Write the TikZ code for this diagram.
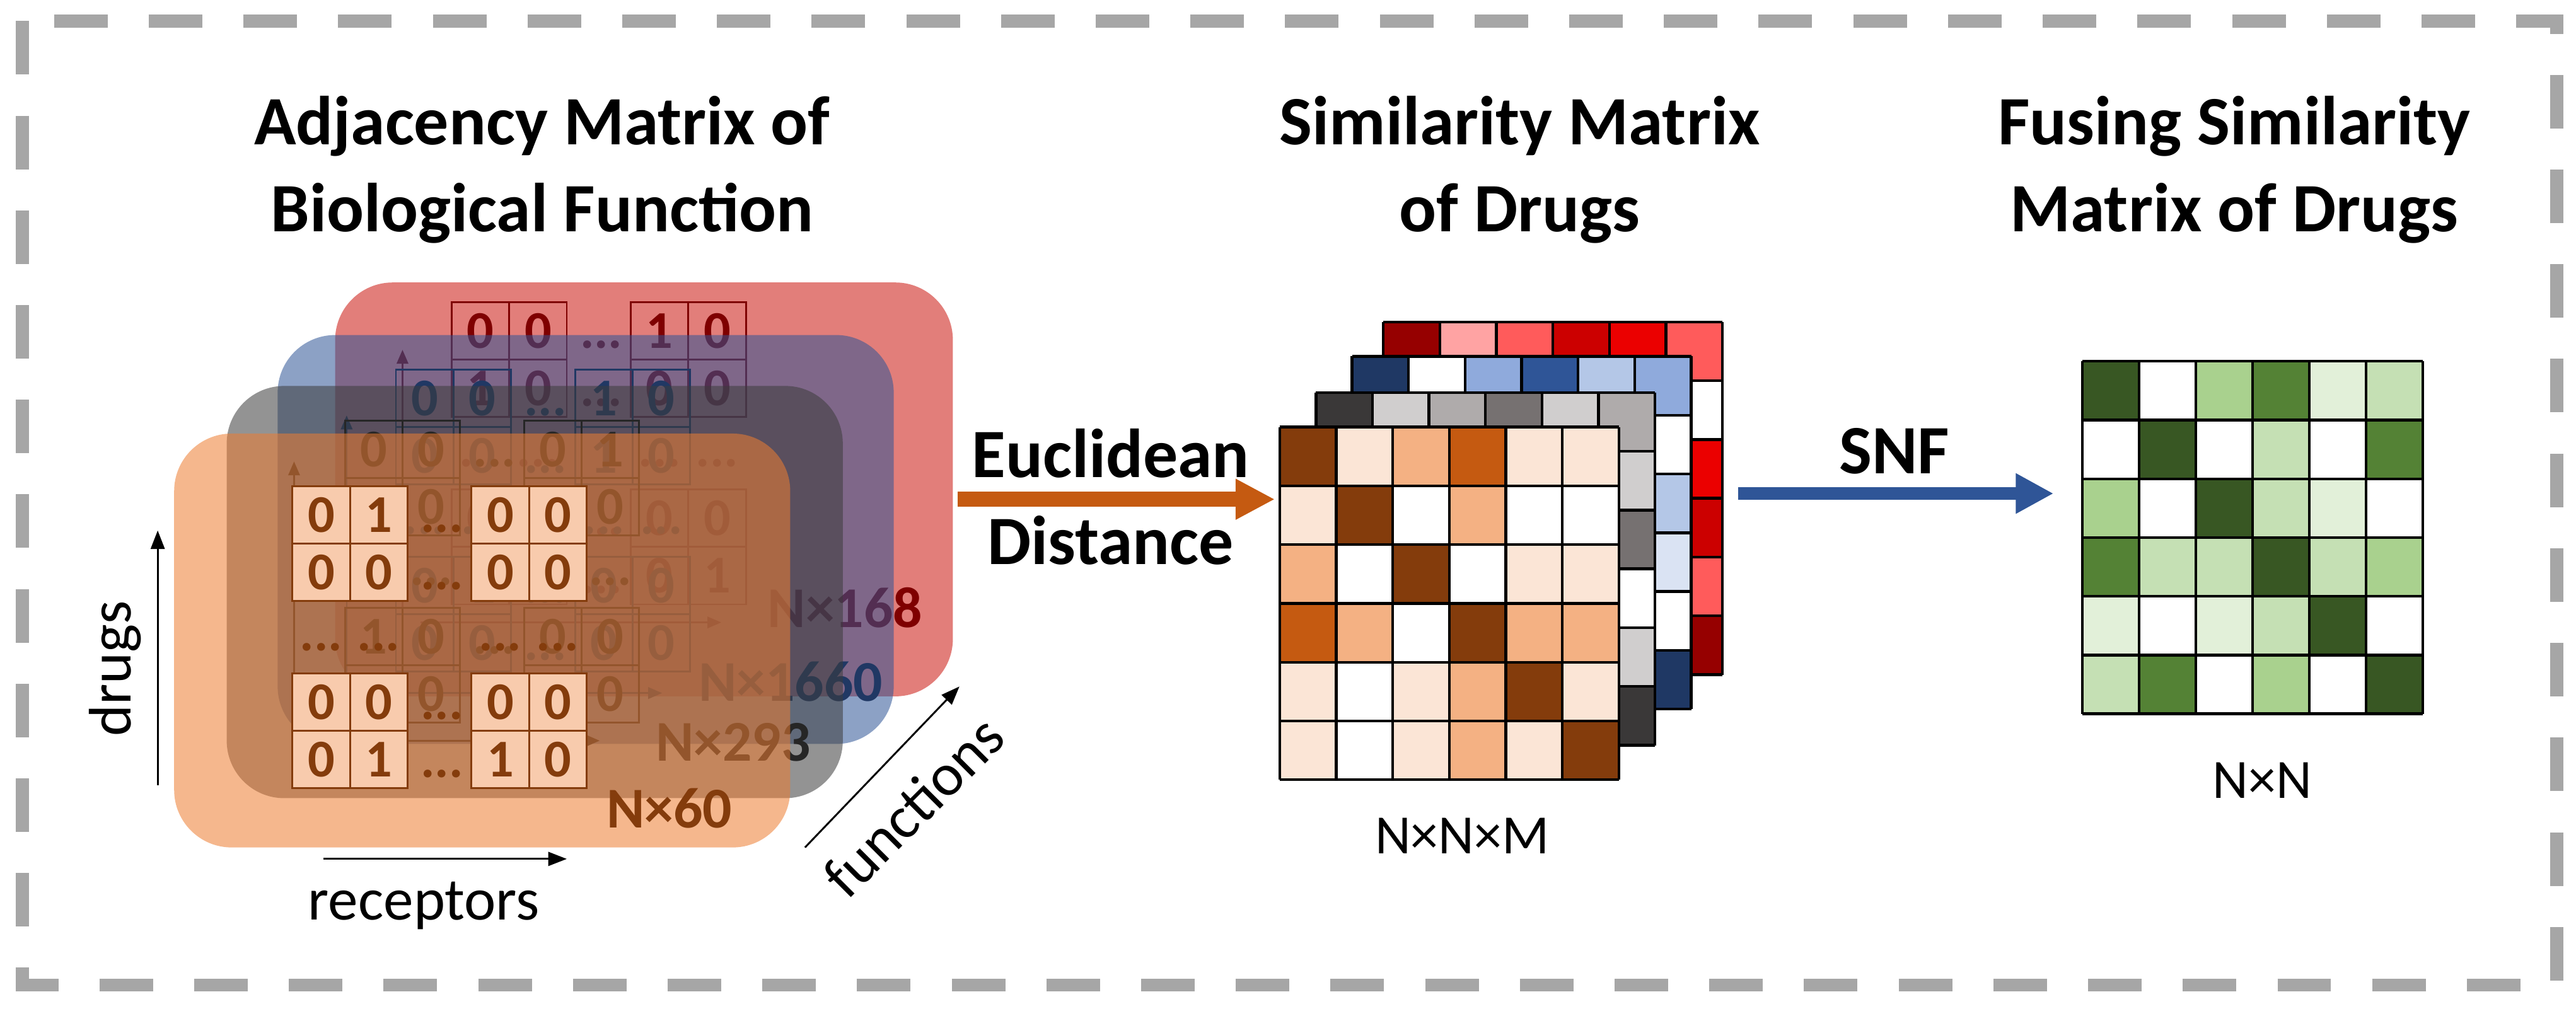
\documentclass[tikz,border=0pt]{standalone}
\usepackage{fontspec}
\setmainfont{Carlito}
\usetikzlibrary{arrows.meta}
\definecolor{bord}{HTML}{A6A6A6}
\definecolor{pred}{HTML}{E27E7A}
\definecolor{pblue}{HTML}{2F5597}
\definecolor{pgray}{HTML}{3C3C3C}
\definecolor{porange}{HTML}{ED7D31}
\definecolor{tred}{HTML}{7F0000}
\definecolor{tblue}{HTML}{203864}
\definecolor{tgray}{HTML}{262626}
\definecolor{tor}{HTML}{843C0C}
\definecolor{cellor}{HTML}{F8CBAD}
\definecolor{O1}{HTML}{843C0C}
\definecolor{O2}{HTML}{C55A11}
\definecolor{O3}{HTML}{F4B183}
\definecolor{O4}{HTML}{FBE5D6}
\definecolor{G1}{HTML}{3A3838}
\definecolor{G2}{HTML}{D0CECE}
\definecolor{G3}{HTML}{AFABAB}
\definecolor{G4}{HTML}{767171}
\definecolor{B1}{HTML}{1F3864}
\definecolor{B2}{HTML}{8FAADC}
\definecolor{B3}{HTML}{2F5597}
\definecolor{B4}{HTML}{B4C7E7}
\definecolor{B5}{HTML}{DAE3F3}
\definecolor{R1}{HTML}{960000}
\definecolor{R2}{HTML}{FFA3A3}
\definecolor{R3}{HTML}{FF5B5B}
\definecolor{R4}{HTML}{CC0000}
\definecolor{R5}{HTML}{EB0000}
\definecolor{GD}{HTML}{385723}
\definecolor{GM}{HTML}{548235}
\definecolor{GL}{HTML}{A9D18E}
\definecolor{GP}{HTML}{C5E0B4}
\definecolor{GV}{HTML}{E2F0D9}
\definecolor{arrO}{HTML}{C55A11}
\definecolor{arrB}{HTML}{2F5597}

\newcommand\stackcontent[6]{%
  \begin{scope}[shift={(#1,#2)}]
    \foreach \cx/\ry/\v in {#5} {
      \draw[draw=#3, line width=0.8pt, #4] (\cx,\ry) rectangle ++(35,35);
      \node[dig, text=#3] (#6c\cx-\ry) at (\cx+17.5,\ry+17.5) {\v};
    }
    \foreach \dx/\dy [count=\n] in {91/26,91/61,91/140,91/175,17.5/98,52.5/98,126.5/98,161.5/98} {
      \node[dig, text=#3] (#6d\n) at (\dx,\dy) {...};
    }
  \end{scope}}

\newcommand\drawmat[5]{%
  \foreach \rw [count=\i from 0] in {#5} {
    \foreach \mc [count=\j from 0] in \rw {
      \fill[fill=\mc] ({#1+\j*#3},{#2+\i*#4}) rectangle ++(#3,#4);
    }
  }
  \foreach \k in {0,...,6} {
    \draw[gridl] ({#1+\k*#3},{#2}) -- ++(0,{6*#4});
    \draw[gridl] ({#1},{#2+\k*#4}) -- ++({6*#3},0);
  }
}

\begin{document}
\begin{tikzpicture}[x=0.25mm, y=-0.25mm,
  dig/.style={font=\fontsize{23}{23}\selectfont\bfseries, inner sep=0pt},
  lab/.style={font=\fontsize{25}{25}\selectfont\bfseries, inner sep=0pt},
  ttl/.style={font=\fontsize{30}{30}\selectfont\bfseries, inner sep=0pt, anchor=base},
  axl/.style={font=\fontsize{26}{26}\selectfont, inner sep=0pt},
  dimlab/.style={font=\fontsize{24}{24}\selectfont, inner sep=0pt},
  gridl/.style={line width=1.2pt, black},
  inarrow/.style={line width=0.7pt, -{Triangle[length=6pt,width=5pt]}},
  axarrow/.style={line width=0.8pt, black, -{Triangle[length=8pt,width=6pt]}},
]
\useasboundingbox (0,0) rectangle (1568,614);
\fill[white] (0,0) rectangle (1568,614);
\draw[bord, line width=5.7pt, dash pattern=on 23.2pt off 17.8pt] (13.5,12.8) rectangle (1556.4,599.8);

% ---------- titles
\node[ttl] (t1a) at (330,88) {Adjacency Matrix of};
\node[ttl] (t1b) at (330,141) {Biological Function};
\node[ttl] (t2a) at (925,88) {Similarity Matrix};
\node[ttl] (t2b) at (925,141) {of Drugs};
\node[ttl] (t3a) at (1360,88) {Fusing Similarity};
\node[ttl] (t3b) at (1360,141) {Matrix of Drugs};

% ---------- left stack: red layer
\fill[pred, rounded corners=8.75mm] (204,172) rectangle (580,424);
\stackcontent{275}{184}{tred}{fill=none}{0/0/0,35/0/0,109/0/1,144/0/0,0/35/1,35/35/0,109/35/0,144/35/0,0/114/0,35/114/0,109/114/0,144/114/0,0/149/1,35/149/0,109/149/0,144/149/1}{r}
\node[lab, text=tred, anchor=west] (lr) at (467,370) {N×168};
\draw[inarrow, tred] (245,373) -- (245,213);
\draw[inarrow, tred] (256,379) -- (439,379);

% blue layer
\fill[pblue, fill opacity=0.55, rounded corners=8.75mm] (169,204) rectangle (544,453);
\stackcontent{241}{225}{tblue}{fill=none}{0/0/0,35/0/0,109/0/1,144/0/0,0/35/0,35/35/0,109/35/1,144/35/0,0/114/0,35/114/1,109/114/0,144/114/0,0/149/0,35/149/0,109/149/0,144/149/0}{b}
\node[lab, text=tblue, anchor=west] (lb) at (425,415) {N×1660};
\draw[inarrow, tblue] (211,414) -- (211,253);
\draw[inarrow, tblue] (222,422) -- (403,422);

% gray layer
\fill[pgray, fill opacity=0.55, rounded corners=8.75mm] (138,235) rectangle (513,486);
\stackcontent{210}{256}{tgray}{fill=none}{0/0/0,35/0/0,109/0/0,144/0/1,0/35/1,35/35/0,109/35/0,144/35/0,0/114/1,35/114/0,109/114/0,144/114/0,0/149/0,35/149/0,109/149/0,144/149/0}{g}
\node[lab, text=tgray, anchor=west] (lg) at (399,452) {N×293};
\draw[inarrow, tgray] (179,445) -- (179,281);
\draw[inarrow, tgray] (190,451) -- (365,451);

% orange layer
\fill[porange, fill opacity=0.55, rounded corners=8.75mm] (106,264) rectangle (481,516);
\stackcontent{178}{296}{tor}{fill=cellor}{0/0/0,35/0/1,109/0/0,144/0/0,0/35/0,35/35/0,109/35/0,144/35/0,0/114/0,35/114/0,109/114/0,144/114/0,0/149/0,35/149/1,109/149/1,144/149/0}{o}
\node[lab, text=tor, anchor=west] (lo) at (369,492) {N×60};

% axes
\coordinate (dA) at (96,478); \coordinate (dB) at (96,323);
\draw[axarrow] (dA) -- (dB);
\node[axl, rotate=90] (drugs) at (70,407) {drugs};
\coordinate (rA) at (197,523); \coordinate (rB) at (345,523);
\draw[axarrow] (rA) -- (rB);
\node[axl, anchor=base] (rec) at (258,560) {receptors};
\coordinate (fA) at (490,516); \coordinate (fB) at (584,418);
\draw[axarrow] (fA) -- (fB);
\node[axl, rotate=45] (fun) at (556,491) {functions};

% ---------- Euclidean arrow
\node[ttl] (eu) at (676,290.5) {Euclidean};
\node[ttl] (di) at (676,343.5) {Distance};
\coordinate (eS) at (583,304); \coordinate (eE) at (776,304);
\draw[line width=6.4pt, arrO, -{Triangle[length=17pt,width=16.5pt]}] (eS) -- (eE);

% ---------- middle matrices (back to front)
\drawmat{842}{196}{34.4}{35.8}{{R1,R2,R3,R4,R5,R3},{white,white,white,white,white,white},{white,white,white,white,white,R5},{white,white,white,white,white,R4},{white,white,white,white,white,R3},{white,white,white,white,white,R1}}
\drawmat{823}{217}{34.4}{35.8}{{B1,white,B2,B3,B4,B2},{white,white,white,white,white,white},{white,white,white,white,white,B4},{white,white,white,white,white,B5},{white,white,white,white,white,white},{white,white,white,white,white,B1}}
\drawmat{801}{239}{34.4}{35.8}{{G1,G2,G3,G4,G2,G3},{white,white,white,white,white,G2},{white,white,white,white,white,G4},{white,white,white,white,white,white},{white,white,white,white,white,G2},{white,white,white,white,white,G1}}
\drawmat{779}{260}{34.4}{35.8}{{O1,O4,O3,O2,O4,O4},{O4,O1,white,O3,white,white},{O3,white,O1,white,O4,O4},{O2,O3,white,O1,O3,O3},{O4,white,O4,O3,O1,O4},{O4,white,O4,O3,O4,O1}}
\node[dimlab] (nnm) at (890,509) {N×N×M};

% ---------- SNF arrow
\node[ttl] (snf) at (1153,288.5) {SNF};
\coordinate (sS) at (1058,300.5); \coordinate (sE) at (1250,300.5);
\draw[line width=5.3pt, arrB, -{Triangle[length=16.4pt,width=16.4pt]}] (sS) -- (sE);

% ---------- green matrix
\drawmat{1267.5}{220}{34.53}{35.77}{{GD,white,GL,GM,GV,GP},{white,GD,white,GP,white,GM},{GL,white,GD,GP,GV,white},{GM,GP,GP,GD,GP,GL},{GV,white,GV,GP,GD,white},{GP,GM,white,GL,white,GD}}
\node[dimlab] (nn) at (1377,475) {N×N};
\end{tikzpicture}
\end{document}
